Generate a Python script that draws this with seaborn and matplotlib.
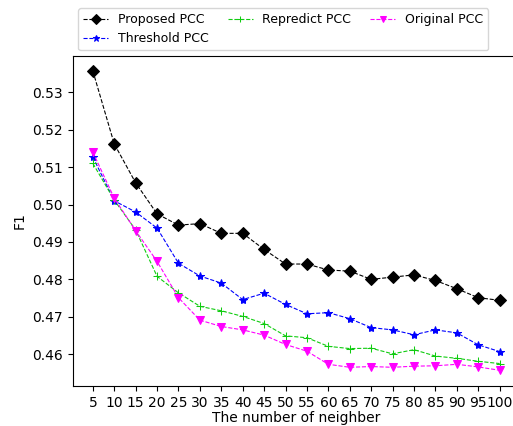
import numpy as np
import pandas as pd
import matplotlib
matplotlib.use("Agg")
import matplotlib.pyplot as plt
import seaborn as sns

neighbors = [5, 10, 15, 20, 25, 30, 35, 40, 45, 50, 55, 60, 65, 70, 75, 80, 85, 90, 95, 100]
proposed = [0.5357, 0.5162, 0.5058, 0.4975, 0.4945, 0.4949, 0.4923, 0.4923, 0.4880, 0.4841,
            0.4841, 0.4825, 0.4822, 0.4800, 0.4806, 0.4812, 0.4797, 0.4775, 0.4751, 0.4744]
threshold = [0.5127, 0.5010, 0.4980, 0.4937, 0.4843, 0.4809, 0.4790, 0.4746, 0.4763, 0.4733,
             0.4708, 0.4711, 0.4695, 0.4671, 0.4665, 0.4652, 0.4665, 0.4657, 0.4625, 0.4607]
repredict = [0.5110, 0.5012, 0.4932, 0.4808, 0.4764, 0.4728, 0.4716, 0.4701, 0.4682, 0.4649,
             0.4644, 0.4621, 0.4615, 0.4616, 0.4601, 0.4612, 0.4595, 0.4589, 0.4581, 0.4575]
original = [0.5140, 0.5017, 0.4930, 0.4848, 0.4751, 0.4691, 0.4674, 0.4665, 0.4651, 0.4626,
            0.4608, 0.4573, 0.4565, 0.4567, 0.4565, 0.4568, 0.4569, 0.4573, 0.4566, 0.4557]
series_names = ["Proposed PCC", "Threshold PCC", "Repredict PCC", "Original PCC"]
y_ticks = [0.46, 0.47, 0.48, 0.49, 0.50, 0.51, 0.52, 0.53]

colors = ["black", "blue", "#11cc11", "magenta"]
markers = ["D", "*", "+", "v"]
msizes = [6, 6, 6, 6]

fig = plt.figure(figsize=(5.13, 4.26), dpi=100)
ax = fig.add_axes([72.5 / 513, 1 - 386 / 426, (520 - 72.5) / 513, (386 - 56) / 426])

for name, vals, c, m, ms in zip(series_names, [proposed, threshold, repredict, original],
                                colors, markers, msizes):
    df = pd.DataFrame({"x": neighbors, "y": vals})
    sns.lineplot(data=df, x="x", y="y", ax=ax, color=c, marker=m, markersize=ms,
                 linestyle="--", linewidth=0.8, label=name,
                 markeredgecolor=c, markerfacecolor=c, alpha=1.0)

ax.set_xticks(neighbors)
ax.set_xticklabels([str(n) for n in neighbors], fontsize=10)
ax.set_yticks(y_ticks)
ax.set_yticklabels([f"{t:.2f}" for t in y_ticks], fontsize=10)
ax.set_ylim(0.4515, 0.5397)
ax.set_xlabel("The number of neighber", fontsize=10, labelpad=1)
ax.set_ylabel("F1", fontsize=10)

handles, labels = ax.get_legend_handles_labels()
ax.get_legend().remove()
fig.legend(handles, labels, ncol=3, loc="upper left", bbox_to_anchor=(78 / 513, 1 - 8 / 426),
           fontsize=9, handlelength=2, columnspacing=1.5, borderaxespad=0.0, markerscale=0.8)

fig.savefig("out.png", dpi=100)
